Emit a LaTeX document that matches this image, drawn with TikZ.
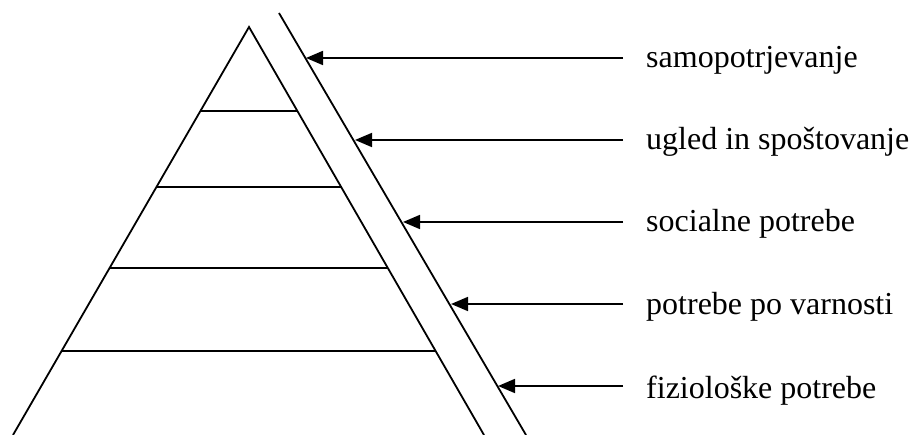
\documentclass[tikz,border=0pt]{standalone}
\usepackage{fontspec}
\setmainfont{Liberation Serif}
\usetikzlibrary{arrows.meta}
\begin{document}
\begin{tikzpicture}[x=1pt,y=-1pt,
  ln/.style={line width=1.8pt},
  arr/.style={line width=1.8pt,-{Triangle[length=17pt,width=14pt]}},
  lbl/.style={anchor=base west,inner sep=0pt,font=\fontsize{32}{38}\selectfont}]
\useasboundingbox (0,0) rectangle (912,435);
% pyramid
\coordinate (apex) at (249,27);
\coordinate (bl) at (13,435);
\coordinate (br) at (484,435);
\draw[ln] (bl) -- (apex) -- (br);
% level lines
\coordinate (l1) at (200.3,111); \coordinate (r1) at (296.5,111);
\coordinate (l2) at (156.2,187); \coordinate (r2) at (341,187);
\coordinate (l3) at (109.2,268); \coordinate (r3) at (387.6,268);
\coordinate (l4) at (61.1,351);  \coordinate (r4) at (435.5,351);
\draw[ln] (l1) -- (r1);
\draw[ln] (l2) -- (r2);
\draw[ln] (l3) -- (r3);
\draw[ln] (l4) -- (r4);
% parallel line
\coordinate (pt) at (279,13);
\coordinate (pb) at (526,435);
\draw[ln] (pt) -- (pb);
% labels
\node[lbl] (t1) at (646,68) {samopotrjevanje};
\node[lbl] (t2) at (646,150) {ugled in spoštovanje};
\node[lbl] (t3) at (646,232) {socialne potrebe};
\node[lbl] (t4) at (646,315) {potrebe po varnosti};
\node[lbl] (t5) at (646,398) {fiziološke potrebe};
% arrows
\coordinate (a1) at (623,58);  \coordinate (h1) at (306,58);
\coordinate (a2) at (623,140); \coordinate (h2) at (355,140);
\coordinate (a3) at (623,222); \coordinate (h3) at (403,222);
\coordinate (a4) at (623,304); \coordinate (h4) at (451,304);
\coordinate (a5) at (623,386); \coordinate (h5) at (498,386);
\draw[arr] (a1) -- (h1);
\draw[arr] (a2) -- (h2);
\draw[arr] (a3) -- (h3);
\draw[arr] (a4) -- (h4);
\draw[arr] (a5) -- (h5);
\end{tikzpicture}
\end{document}
